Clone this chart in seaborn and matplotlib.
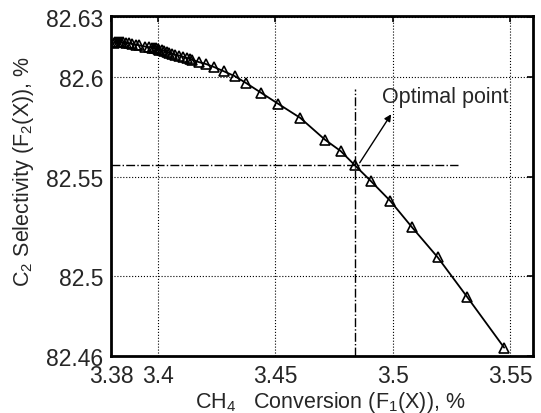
import pandas as pd
import matplotlib
matplotlib.use('Agg')
import matplotlib.pyplot as plt
import seaborn as sns

# Pareto front: CH4 conversion (F1) vs C2 selectivity (F2)
conversion = [3.3812, 3.3818, 3.3825, 3.3832, 3.3840, 3.3850, 3.3862, 3.3876,
              3.3890, 3.3905, 3.3920, 3.3945, 3.3962, 3.3975, 3.3982, 3.3990,
              3.3998, 3.4006, 3.4015, 3.4025, 3.4036, 3.4048, 3.4060, 3.4074,
              3.4090, 3.4106, 3.4122, 3.4135, 3.4145, 3.4174, 3.4205, 3.4239,
              3.4282, 3.4326, 3.4375, 3.4438, 3.4513, 3.4606, 3.4712, 3.4779,
              3.4838, 3.4907, 3.4990, 3.5081, 3.5192, 3.5317, 3.5475]
selectivity = [82.6172, 82.6176, 82.6178, 82.6177, 82.6176, 82.6174, 82.6172, 82.6169,
               82.6166, 82.6163, 82.6159, 82.6153, 82.6150, 82.6148, 82.6146, 82.6144,
               82.6141, 82.6138, 82.6135, 82.6131, 82.6127, 82.6122, 82.6117, 82.6112,
               82.6108, 82.6102, 82.6096, 82.6091, 82.6087, 82.6075, 82.6065, 82.6050,
               82.6028, 82.6005, 82.5970, 82.5922, 82.5865, 82.5795, 82.5685, 82.5628,
               82.5558, 82.5478, 82.5378, 82.5248, 82.5095, 82.4897, 82.4642]

opt_x, opt_y = 3.4838, 82.5558

x_ticks = [3.38, 3.4, 3.45, 3.5, 3.55]
x_labels = ["3.38", "3.4", "3.45", "3.5", "3.55"]
y_ticks = [82.46, 82.5, 82.55, 82.6, 82.63]
y_labels = ["82.46", "82.5", "82.55", "82.6", "82.63"]

df = pd.DataFrame({"conv": conversion, "sel": selectivity})

sns.set_style("white")
plt.rcParams['font.family'] = ['Liberation Sans', 'DejaVu Sans']
plt.rcParams['mathtext.fontset'] = 'custom'
plt.rcParams['mathtext.rm'] = 'Liberation Sans'
plt.rcParams['mathtext.it'] = 'Liberation Sans'

fig = plt.figure(figsize=(5.41, 4.14), dpi=100)
ax = fig.add_axes([0.2046, 0.1377, 0.7806, 0.8220])

sns.lineplot(x="conv", y="sel", data=df, sort=False, ax=ax, color="black",
             linewidth=1.3, marker="^", markersize=7.5, markerfacecolor="none",
             markeredgecolor="black", markeredgewidth=1.2)

# reference lines through the optimal point
ax.plot([3.38, 3.528], [opt_y, opt_y], color="black", linestyle="-.", linewidth=1.0)
ax.plot([opt_x, opt_x], [82.46, 82.594], color="black", linestyle="-.", linewidth=1.0)
ax.annotate("", xy=(3.5, 82.5825), xytext=(opt_x + 0.0015, opt_y),
            arrowprops=dict(arrowstyle="-|>", color="black", lw=1.0, mutation_scale=10))
ax.text(3.4955, 82.5903, "Optimal point", fontsize=15.5, va="center", ha="left")

ax.set_xlim(3.3798, 3.5598)
ax.set_ylim(82.46, 82.6308)
ax.set_xticks(x_ticks)
ax.set_xticklabels(x_labels)
ax.set_yticks(y_ticks)
ax.set_yticklabels(y_labels)
ax.grid(True, color="black", linestyle=":", linewidth=0.8)
ax.tick_params(direction="in", labelsize=16.5, length=4.5, width=1.2,
               color="black", pad=5.5, top=True, right=True)
for s in ax.spines.values():
    s.set_color("black")
    s.set_linewidth(2.0)

ax.set_xlabel("CH$_4$   Conversion (F$_1$(X)), %", fontsize=15.5)
ax.set_ylabel("C$_2$ Selectivity (F$_2$(X)), %", fontsize=15.5)
ax.xaxis.set_label_coords(0.52, -0.097)
ax.yaxis.set_label_coords(-0.177, 0.544)

fig.savefig("out.png", dpi=100)
plt.close(fig)
